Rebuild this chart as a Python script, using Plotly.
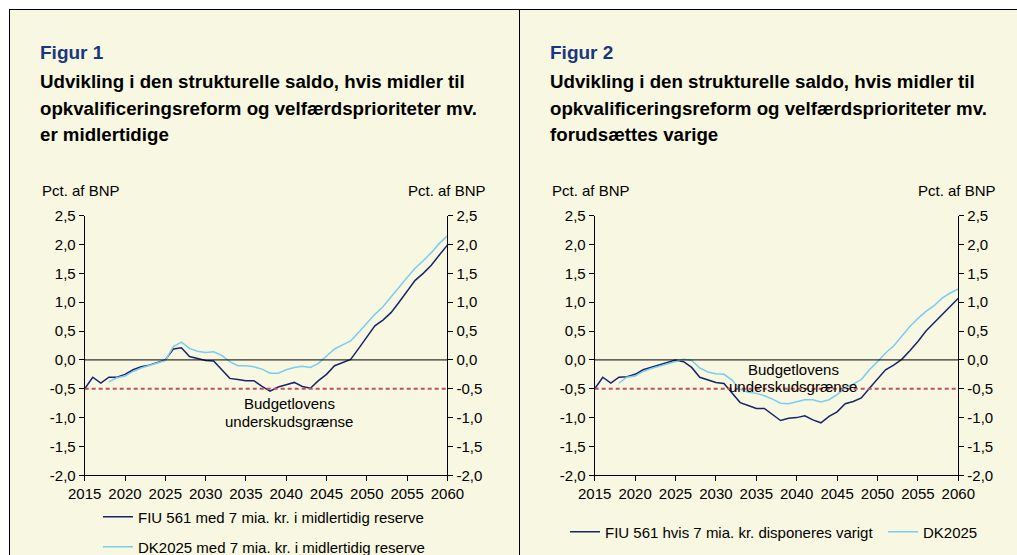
import plotly.graph_objects as go

# ---------------- data ----------------
years = list(range(2015, 2061))
years_dk = list(range(2018, 2061))

fig1_fiu = [-0.50, -0.30, -0.40, -0.30, -0.30, -0.25, -0.17, -0.12, -0.09, -0.04,
            0.00, 0.19, 0.21, 0.06, 0.02, -0.01, -0.02, -0.17, -0.32, -0.34,
            -0.36, -0.36, -0.46, -0.54, -0.47, -0.43, -0.39, -0.46, -0.49, -0.36,
            -0.25, -0.10, -0.05, 0.01, 0.20, 0.39, 0.59, 0.69, 0.82, 1.00,
            1.19, 1.38, 1.50, 1.64, 1.82, 1.99]
fig1_dk = [-0.38, -0.31, -0.28, -0.20, -0.14, -0.10, -0.06, -0.01,
           0.23, 0.31, 0.20, 0.15, 0.13, 0.14, 0.08, -0.03, -0.10, -0.10,
           -0.12, -0.16, -0.23, -0.23, -0.17, -0.13, -0.11, -0.13, -0.06, 0.07,
           0.19, 0.26, 0.33, 0.48, 0.64, 0.79, 0.92, 1.10, 1.26, 1.43,
           1.59, 1.72, 1.86, 2.02, 2.15]

fig2_fiu = [-0.50, -0.30, -0.40, -0.30, -0.29, -0.25, -0.17, -0.13, -0.09, -0.04,
            0.00, -0.03, -0.13, -0.30, -0.35, -0.39, -0.41, -0.58, -0.74, -0.79,
            -0.84, -0.84, -0.95, -1.05, -1.01, -1.00, -0.97, -1.04, -1.09, -0.98,
            -0.90, -0.76, -0.72, -0.66, -0.49, -0.33, -0.17, -0.09, 0.01, 0.16,
            0.32, 0.50, 0.64, 0.78, 0.92, 1.07]
fig2_dk = [-0.40, -0.30, -0.28, -0.20, -0.15, -0.11, -0.06, -0.02,
           0.01, -0.01, -0.14, -0.21, -0.24, -0.25, -0.35, -0.51, -0.56, -0.58,
           -0.62, -0.68, -0.75, -0.76, -0.72, -0.69, -0.69, -0.73, -0.69, -0.60,
           -0.48, -0.42, -0.34, -0.17, -0.03, 0.12, 0.24, 0.42, 0.58, 0.72,
           0.84, 0.94, 1.07, 1.16, 1.23]

zero_level = 0.0
deficit_limit = -0.5

y_tickvals = [-2.0, -1.5, -1.0, -0.5, 0.0, 0.5, 1.0, 1.5, 2.0, 2.5]
y_ticktext = ["-2,0", "-1,5", "-1,0", "-0,5", "0,0", "0,5", "1,0", "1,5", "2,0", "2,5"]
x_tickvals = [2015, 2020, 2025, 2030, 2035, 2040, 2045, 2050, 2055, 2060]
x_ticktext = [str(v) for v in x_tickvals]

names_fig1 = ["FIU 561 med 7 mia. kr. i midlertidig reserve",
              "DK2025 med 7 mia. kr. i midlertidig reserve"]
names_fig2 = ["FIU 561 hvis 7 mia. kr. disponeres varigt", "DK2025"]

fig1_label = "Figur 1"
fig2_label = "Figur 2"
fig1_title = ["Udvikling i den strukturelle saldo, hvis midler til",
              "opkvalificeringsreform og velfærdsprioriteter mv.",
              "er midlertidige"]
fig2_title = ["Udvikling i den strukturelle saldo, hvis midler til",
              "opkvalificeringsreform og velfærdsprioriteter mv.",
              "forudsættes varige"]
unit_label = "Pct. af BNP"
limit_label = ["Budgetlovens", "underskudsgrænse"]

# ---------------- styling ----------------
W, H = 1017, 555
FONT = "Liberation Sans, Arial, sans-serif"
CREAM = "#F8F7E1"
DARK = "#17256B"
LIGHT = "#7ACDEE"
RED = "#C4505E"
NAVY_TITLE = "#1B3680"
FS = 15


def px(x):
    return x / W


def py(y):
    return 1 - y / H


fig = go.Figure()

fig.add_trace(go.Scatter(x=years, y=fig1_fiu, mode="lines", name=names_fig1[0],
                         line=dict(color=DARK, width=1.5), xaxis="x", yaxis="y",
                         legend="legend"))
fig.add_trace(go.Scatter(x=years_dk, y=fig1_dk, mode="lines", name=names_fig1[1],
                         line=dict(color=LIGHT, width=1.5), xaxis="x", yaxis="y",
                         legend="legend2"))
fig.add_trace(go.Scatter(x=years, y=fig2_fiu, mode="lines", name=names_fig2[0],
                         line=dict(color=DARK, width=1.5), xaxis="x2", yaxis="y2",
                         legend="legend3"))
fig.add_trace(go.Scatter(x=years_dk, y=fig2_dk, mode="lines", name=names_fig2[1],
                         line=dict(color=LIGHT, width=1.5), xaxis="x2", yaxis="y2",
                         legend="legend4"))
fig.add_trace(go.Scatter(x=[2015], y=[None], xaxis="x", yaxis="y3", showlegend=False,
                         hoverinfo="skip", mode="lines"))
fig.add_trace(go.Scatter(x=[2015], y=[None], xaxis="x2", yaxis="y4", showlegend=False,
                         hoverinfo="skip", mode="lines"))

dom1 = [px(84.7), px(447.4)]
dom2 = [px(594.7), px(958.3)]
ydom = [py(475.3), py(215.7)]

tickfont = dict(family=FONT, size=FS, color="black")
xcommon = dict(range=[2015, 2060], tickvals=x_tickvals, ticktext=x_ticktext,
               showline=True, linecolor="black", linewidth=1, ticks="outside",
               ticklen=5, tickcolor="black", showgrid=False, zeroline=False,
               tickfont=tickfont, fixedrange=True, automargin=False)
ycommon = dict(range=[-2.0, 2.5], tickvals=y_tickvals, ticktext=y_ticktext,
               showline=True, linecolor="black", linewidth=1, ticks="outside",
               ticklen=5, tickcolor="black", showgrid=False, zeroline=False,
               tickfont=tickfont, fixedrange=True, automargin=False)

legend_common = dict(bgcolor="rgba(0,0,0,0)", borderwidth=0, xanchor="left",
                     yanchor="middle", itemwidth=30,
                     font=dict(family=FONT, size=FS, color="black"))

fig.update_layout(
    template="none",
    width=W, height=H,
    margin=dict(l=0, r=0, t=0, b=0, pad=0, autoexpand=False),
    paper_bgcolor="white",
    plot_bgcolor="rgba(0,0,0,0)",
    font=dict(family=FONT, size=FS, color="black"),
    xaxis=dict(domain=dom1, anchor="y", **xcommon),
    yaxis=dict(domain=ydom, anchor="x", side="left", **ycommon),
    yaxis3=dict(domain=ydom, anchor="x", overlaying="y", side="right", **ycommon),
    xaxis2=dict(domain=dom2, anchor="y2", **xcommon),
    yaxis2=dict(domain=ydom, anchor="x2", side="left", **ycommon),
    yaxis4=dict(domain=ydom, anchor="x2", overlaying="y2", side="right", **ycommon),
    legend=dict(x=px(98), y=py(517), **legend_common),
    legend2=dict(x=px(98), y=py(547), **legend_common),
    legend3=dict(x=px(565), y=py(532), **legend_common),
    legend4=dict(x=px(883), y=py(532), **legend_common),
    showlegend=True,
)

shapes = [
    dict(type="rect", xref="paper", yref="paper", x0=px(9), x1=1, y0=0, y1=py(9),
         fillcolor=CREAM, line=dict(width=0), layer="below"),
    dict(type="line", xref="paper", yref="paper", x0=px(9), x1=1, y0=py(9.5), y1=py(9.5),
         line=dict(color="black", width=1)),
    dict(type="line", xref="paper", yref="paper", x0=px(9.5), x1=px(9.5), y0=0, y1=py(9),
         line=dict(color="black", width=1)),
    dict(type="line", xref="paper", yref="paper", x0=px(519.5), x1=px(519.5), y0=0, y1=py(9),
         line=dict(color="black", width=1)),
]
for xr, yr in (("x", "y"), ("x2", "y2")):
    shapes.append(dict(type="line", xref=xr, yref=yr, x0=2015, x1=2060,
                       y0=zero_level, y1=zero_level, line=dict(color="black", width=1)))
    shapes.append(dict(type="line", xref=xr, yref=yr, x0=2015, x1=2060,
                       y0=deficit_limit, y1=deficit_limit,
                       line=dict(color=RED, width=2, dash="4px,3px")))
fig.update_layout(shapes=shapes)

ann = []


def text(x, y, s, size=FS, color="black", xanchor="left", bold=False):
    ann.append(dict(xref="paper", yref="paper", x=px(x), y=py(y), xanchor=xanchor,
                    yanchor="middle", showarrow=False,
                    text=f"<b>{s}</b>" if bold else s,
                    font=dict(family=FONT, size=size, color=color)))


for x0, lab, title, unit_r in ((38, fig1_label, fig1_title, 488),
                               (548, fig2_label, fig2_title, 998)):
    text(x0, 52, lab, size=19, color=NAVY_TITLE, bold=True)
    for i, line in enumerate(title):
        text(x0, 81 + 27 * i, line, size=18.7, bold=True)
    text(x0 + 2, 190, unit_label)
    text(unit_r, 190, unit_label, xanchor="right")

text(289, 403, limit_label[0], xanchor="center")
text(289, 421, limit_label[1], xanchor="center")
text(793, 369, limit_label[0], xanchor="center")
text(793, 386, limit_label[1], xanchor="center")

fig.update_layout(annotations=ann)

fig.write_html("out.html", post_script="document.body.style.margin='0';",
               config={"displayModeBar": False})
